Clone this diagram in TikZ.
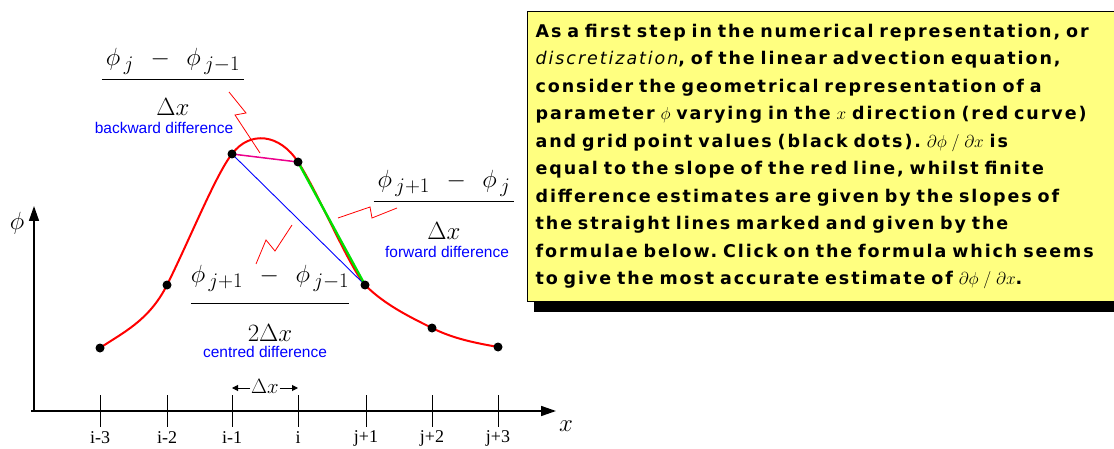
\documentclass[tikz,border=0pt]{standalone}
\usepackage{amsmath}
\usepackage{fontspec}
\setmainfont{Liberation Serif}
\newfontfamily\notefont[LetterSpace=11]{DejaVu Sans}
\newfontfamily\labelfont{Liberation Sans}
\usetikzlibrary{arrows.meta,positioning,shadows}
\definecolor{notebg}{RGB}{255,255,128}
\definecolor{fwdgreen}{RGB}{0,225,0}

\begin{document}
\frenchspacing
\begin{tikzpicture}[x=1pt,y=-1pt,
        axis/.style={line width=1.6pt,-{Triangle[length=15pt,width=10pt]}},
        tick/.style={line width=1pt},
        gridpt/.style={circle,fill=black,inner sep=0pt,minimum size=9pt},
        curve/.style={red,line width=2pt},
        fracnode/.style={anchor=base,inner sep=0pt,font=\fontsize{28}{32}\selectfont},
        difflabel/.style={blue,inner sep=0pt,font=\labelfont\fontsize{15.5}{17}\selectfont},
        pointer/.style={red,line width=0.8pt},
        ticklabel/.style={inner sep=0pt,font=\fontsize{18}{20}\selectfont},
        dxarrow/.style={line width=1pt,-{Triangle[length=6pt,width=6pt]}},
        notebox/.style={draw,line width=1.2pt,fill=notebg,anchor=north west,
            minimum width=592pt,minimum height=290pt,inner xsep=8pt,inner ysep=0pt,
            text width=576pt,align=left,
            drop shadow={shadow xshift=6pt,shadow yshift=-10pt,fill=black,opacity=1},
            font=\notefont\bfseries\fontsize{17.5}{27.5}\selectfont}
    ]
        \useasboundingbox (0,0) rectangle (1114,449);

        \node[notebox] (note) at (527,11) {As a first step in the numerical representation, or\\
            {\mdseries\itshape discretization}, of the linear advection equation,\\
            consider the geometrical representation of a\\
            parameter $\phi$ varying in the $x$ direction (red curve)\\
            and grid point values (black dots). $\partial\phi\;/\;\partial x$ is\\
            equal to the slope of the red line, whilst finite\\
            difference estimates are given by the slopes of\\
            the straight lines marked and given by the\\
            formulae below. Click on the formula which seems\\
            to give the most accurate estimate of $\partial\phi\;/\;\partial x$.};

        \coordinate (origin) at (34,411);
        \coordinate (xend) at (556,411);
        \coordinate (yend) at (34,206);
        \draw[axis] (31,411) -- (xend);
        \draw[axis] (origin) -- (yend);
        \node[inner sep=0pt,font=\fontsize{28}{30}\selectfont] (xlab) at (566,426) {$x$};
        \node[inner sep=0pt,font=\fontsize{25}{30}\selectfont] (philab) at (17,223) {$\phi$};

        \foreach \xx/\lab [count=\k] in {100/i-3,167/i-2,232/i-1,298/i,366/j+1,432/j+2,498/j+3} {
            \draw[tick] (\xx,395) -- (\xx,427);
            \node[ticklabel] (t\k) at (\xx,438) {\lab};
        }

        \coordinate (g1) at (100,348);
        \coordinate (g2) at (167,285);
        \coordinate (g3) at (232,154);
        \coordinate (g4) at (298,162);
        \coordinate (g5) at (365,285);
        \coordinate (g6) at (432,328);
        \coordinate (g7) at (498,347);

        \draw[curve] (g1) .. controls (122,333) and (149,321) .. (g2)
            .. controls (189,241) and (216,174) .. (g3)
            .. controls (250,130) and (280,134) .. (g4)
            .. controls (318,192) and (347,263) .. (g5)
            .. controls (385,305) and (410,317) .. (g6)
            .. controls (454,339) and (476,343) .. (g7);
        \draw[magenta,line width=1.5pt] (g3) -- (g4);
        \draw[blue,line width=0.9pt] (g3) -- (g5);
        \draw[fwdgreen,line width=2.4pt] (g4) -- (g5);
        \foreach \p in {g1,g2,g3,g4,g5,g6,g7}
            \node[gridpt] at (\p) {};

        \node[fracnode] (bwd) at (173,86) {$\dfrac{\hspace{4pt}\phi_{\,j}\;\,-\;\,\phi_{\,j-1}\hspace{4pt}\rule[-11pt]{0pt}{0pt}}{\rule{0pt}{32pt}\Delta x}$};
        \node[fracnode] (fwd) at (444,208) {$\dfrac{\hspace{4pt}\phi_{\,j+1}\;\,-\;\,\phi_{\,j}\hspace{4pt}\rule[-11pt]{0pt}{0pt}}{\rule{0pt}{34pt}\Delta x}$};
        \node[fracnode] (cen) at (270,310) {$\dfrac{\phi_{\,j+1}\;\,-\;\,\phi_{\,j-1}\rule[-18pt]{0pt}{0pt}}{\rule{0pt}{34pt}2\Delta x}$};

        \node[difflabel,below=7pt of bwd,xshift=-9pt] (bwdlab) {backward difference};
        \node[difflabel,below=7pt of fwd,xshift=3pt] (fwdlab) {forward difference};
        \node[difflabel,below=5pt of cen,xshift=-5pt] (cenlab) {centred difference};

        \draw[pointer] (229,92) -- (246,113) -- (235,115) -- (260,153);
        \draw[pointer] (338,218) -- (370,207) -- (372,218) -- (397,208);
        \draw[pointer] (256,264) -- (266,240) -- (275,251) -- (292,225);

        \coordinate (dxl) at (232,388);
        \coordinate (dxr) at (298,388);
        \node[inner sep=1pt,font=\fontsize{20}{22}\selectfont] (dx) at (265,386) {$\Delta x$};
        \draw[dxarrow] (dx.west |- dxl) -- (dxl);
        \draw[dxarrow] (dx.east |- dxr) -- (dxr);
    \end{tikzpicture}
\end{document}
